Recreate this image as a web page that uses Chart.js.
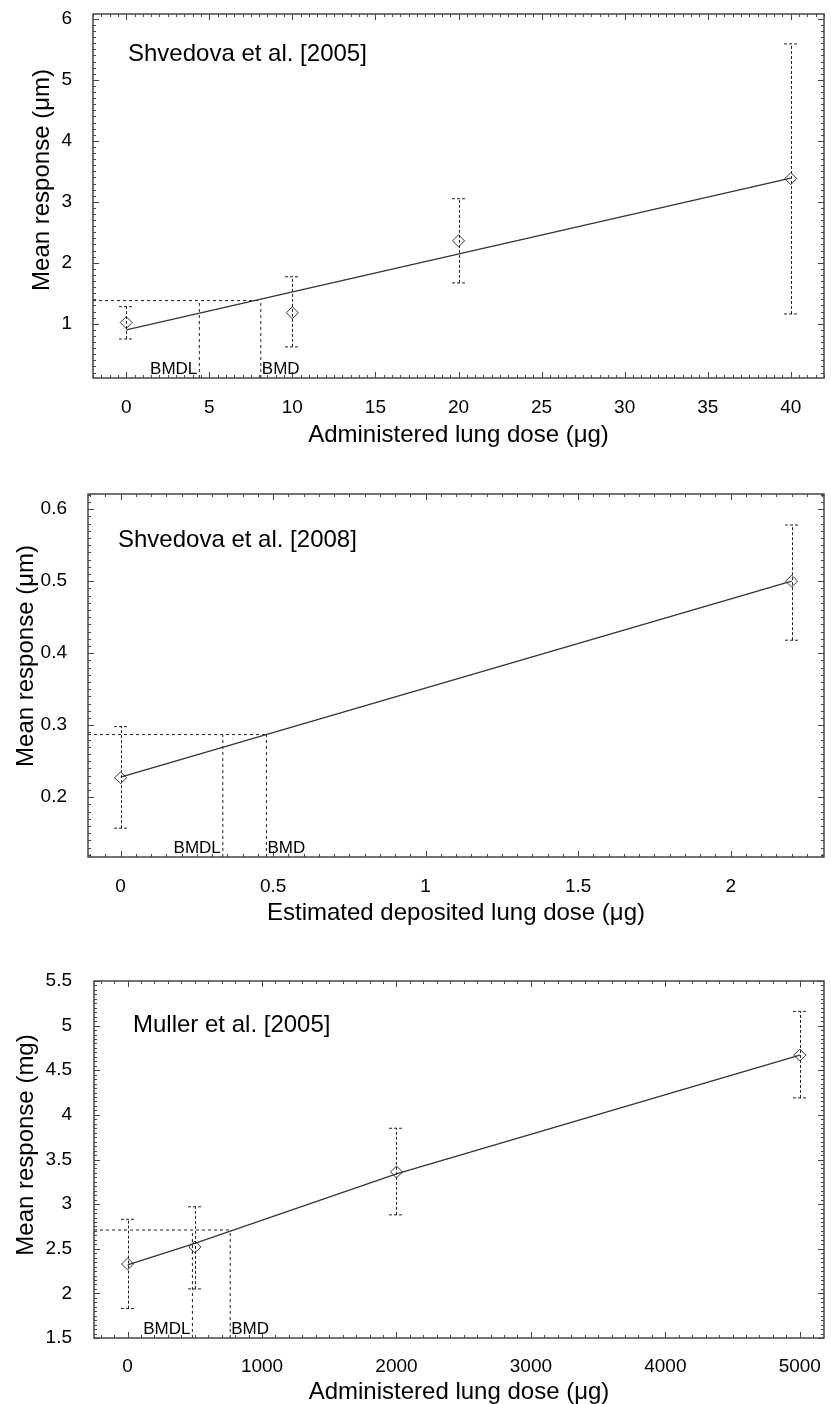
<!DOCTYPE html>
<html>
<head>
<meta charset="utf-8">
<script src="https://cdn.jsdelivr.net/npm/chart.js@4.4.0/dist/chart.umd.min.js"></script>
<style>
  body { margin: 0; background: #fff; width: 831px; height: 1404px; position: relative; overflow: hidden; }
  .panel { position: absolute; left: 0; width: 831px; }
</style>
</head>
<body>
<div class="panel" style="top:0;height:450px"><canvas id="c1"></canvas></div>
<div class="panel" style="top:460px;height:470px"><canvas id="c2"></canvas></div>
<div class="panel" style="top:950px;height:454px"><canvas id="c3"></canvas></div>
<script>
// Shvedova et al. [2005]
const dose1 = [0, 10, 20, 40];
const mean1 = [1.02, 1.18, 2.36, 3.38];
const low1 = [0.75, 0.62, 1.67, 1.16];
const high1 = [1.28, 1.77, 3.05, 5.59];
const fitDose1 = [0, 40];
const fitMean1 = [0.9, 3.39];
const bmd1 = [8.1, 4.4, 1.38];          // BMD, BMDL, response level
const xTicks1 = [0, 5, 10, 15, 20, 25, 30, 35, 40];
const yTicks1 = [1, 2, 3, 4, 5, 6];

// Shvedova et al. [2008]
const dose2 = [0, 2.2];
const mean2 = [0.227, 0.5];
const low2 = [0.157, 0.418];
const high2 = [0.298, 0.578];
const fitDose2 = [0, 2.2];
const fitMean2 = [0.228, 0.5];
const bmd2 = [0.478, 0.335, 0.287];
const xTicks2 = [0, 0.5, 1, 1.5, 2];
const yTicks2 = [0.2, 0.3, 0.4, 0.5, 0.6];

// Muller et al. [2005]
const dose3 = [0, 500, 2000, 5000];
const mean3 = [2.33, 2.52, 3.36, 4.67];
const low3 = [1.83, 2.05, 2.88, 4.19];
const high3 = [2.83, 2.97, 3.85, 5.16];
const fitDose3 = [0, 500, 2000, 5000];
const fitMean3 = [2.32, 2.56, 3.34, 4.67];
const bmd3 = [763, 482, 2.71];
const xTicks3 = [0, 1000, 2000, 3000, 4000, 5000];
const yTicks3 = [1.5, 2, 2.5, 3, 3.5, 4, 4.5, 5, 5.5];

const FONT = '"Liberation Sans", Arial, Helvetica, sans-serif';

function line(ctx, x1, y1, x2, y2) {
  ctx.beginPath();
  ctx.moveTo(x1, y1);
  ctx.lineTo(x2, y2);
  ctx.stroke();
}

function makeChart(p) {
  const pts = (xs, ys) => xs.map((x, i) => ({ x: x, y: ys[i] }));
  const dashed = { showLine: true, borderColor: '#222', borderWidth: 1, borderDash: [3, 3], pointRadius: 0 };
  const [bmd, bmdl, bmr] = p.bmd;

  // error bars, frame, inside ticks and the text annotations
  const extras = {
    id: 'extras',
    beforeDatasetsDraw(chart) {
      const { ctx, scales: { x, y } } = chart;
      ctx.save();
      ctx.strokeStyle = '#222';
      ctx.lineWidth = 1;
      ctx.setLineDash([3, 2]);
      p.dose.forEach((d, i) => {
        const px = Math.round(x.getPixelForValue(d)) + 0.5;
        const lo = y.getPixelForValue(p.low[i]);
        const hi = y.getPixelForValue(p.high[i]);
        line(ctx, px, lo, px, hi);
        line(ctx, px - 7.5, lo, px + 7.5, lo);
        line(ctx, px - 7.5, hi, px + 7.5, hi);
      });
      ctx.restore();
    },
    afterDatasetsDraw(chart) {
      const { ctx, chartArea: a, scales: { x, y } } = chart;
      ctx.save();
      ctx.strokeStyle = '#444';
      ctx.lineWidth = 1.5;
      ctx.strokeRect(a.left, a.top, a.right - a.left, a.bottom - a.top);

      ctx.lineWidth = 1;
      const tickX = (v, len) => {
        const px = Math.round(x.getPixelForValue(v)) + 0.5;
        line(ctx, px, a.bottom, px, a.bottom - len);
        line(ctx, px, a.top, px, a.top + len);
      };
      const tickY = (v, len) => {
        const py = Math.round(y.getPixelForValue(v)) + 0.5;
        line(ctx, a.left, py, a.left + len, py);
        line(ctx, a.right, py, a.right - len, py);
      };
      const minors = (min, max, step, major, fn) => {
        for (let k = Math.ceil(min / step); k <= Math.floor(max / step); k++) {
          const v = k * step;
          if (!major.some(m => Math.abs(m - v) < step / 10)) fn(v, 3);
        }
      };
      p.xTicks.forEach(v => tickX(v, 6));
      p.yTicks.forEach(v => tickY(v, 6));
      minors(p.xMin, p.xMax, p.xMinor, p.xTicks, tickX);
      minors(p.yMin, p.yMax, p.yMinor, p.yTicks, tickY);

      ctx.fillStyle = '#000';
      ctx.font = '24px ' + FONT;
      ctx.textAlign = 'left';
      ctx.textBaseline = 'alphabetic';
      ctx.fillText(p.label, a.left + p.labelX, a.top + p.labelY);

      ctx.font = '17px ' + FONT;
      ctx.textAlign = 'right';
      ctx.fillText('BMDL', x.getPixelForValue(bmdl) - 2, a.bottom - 4);
      ctx.textAlign = 'left';
      ctx.fillText('BMD', x.getPixelForValue(bmd) + 1, a.bottom - 4);

      ctx.translate(p.yTitleX, p.yTitleY);
      ctx.rotate(-Math.PI / 2);
      ctx.font = '24px ' + FONT;
      ctx.textAlign = 'center';
      ctx.textBaseline = 'middle';
      ctx.fillText(p.yTitle, 0, 0);
      ctx.restore();
    }
  };

  new Chart(document.getElementById(p.id), {
    type: 'scatter',
    data: {
      datasets: [
        { data: pts(p.dose, p.mean), pointStyle: 'rectRot', pointRadius: 6,
          borderColor: '#333', borderWidth: 1, backgroundColor: 'rgba(0,0,0,0)' },
        { data: pts(p.fitDose, p.fitMean), showLine: true, borderColor: '#333', borderWidth: 1.3, pointRadius: 0 },
        Object.assign({ data: [{ x: p.xMin, y: bmr }, { x: bmd, y: bmr }] }, dashed),
        Object.assign({ data: [{ x: bmdl, y: p.yMin }, { x: bmdl, y: bmr }] }, dashed),
        Object.assign({ data: [{ x: bmd, y: p.yMin }, { x: bmd, y: bmr }] }, dashed)
      ]
    },
    options: {
      responsive: true,
      maintainAspectRatio: false,
      animation: false,
      events: [],
      layout: { padding: { top: p.padTop, right: p.padRight, left: 0, bottom: 0 } },
      plugins: { legend: { display: false }, tooltip: { enabled: false } },
      scales: {
        x: {
          type: 'linear', min: p.xMin, max: p.xMax,
          grid: { display: false }, border: { display: false },
          afterBuildTicks: s => { s.ticks = p.xTicks.map(v => ({ value: v })); },
          afterFit: s => { s.height = p.xHeight; s.paddingLeft = 0; s.paddingRight = 0; },
          ticks: { padding: p.xTickPad, color: '#000', maxRotation: 0, autoSkip: false,
                   font: { family: FONT, size: 19 }, callback: v => String(v) },
          title: { display: true, text: p.xTitle, color: '#000',
                   font: { family: FONT, size: 24, lineHeight: 1 }, padding: { top: 0, bottom: p.xTitlePad } }
        },
        y: {
          type: 'linear', min: p.yMin, max: p.yMax,
          grid: { display: false }, border: { display: false },
          afterBuildTicks: s => { s.ticks = p.yTicks.map(v => ({ value: v })); },
          afterFit: s => { s.width = p.yWidth; s.paddingTop = 0; s.paddingBottom = 0; },
          ticks: { padding: p.yTickPad, color: '#000', autoSkip: false,
                   font: { family: FONT, size: 19 }, callback: v => String(v) }
        }
      }
    },
    plugins: [extras]
  });
}

makeChart({
  id: 'c1', dose: dose1, mean: mean1, low: low1, high: high1, fitDose: fitDose1, fitMean: fitMean1, bmd: bmd1,
  xTicks: xTicks1, yTicks: yTicks1, xMin: -2, xMax: 42, yMin: 0.11, yMax: 6.08, xMinor: 0.5, yMinor: 0.1,
  label: 'Shvedova et al. [2005]', xTitle: 'Administered lung dose (μg)', yTitle: 'Mean response (μm)',
  padTop: 14, padRight: 3, yWidth: 93, xHeight: 72, xTickPad: 10, yTickPad: 13, xTitlePad: 3,
  yTitleX: 42, yTitleY: 180, labelX: 35, labelY: 47
});

makeChart({
  id: 'c2', dose: dose2, mean: mean2, low: low2, high: high2, fitDose: fitDose2, fitMean: fitMean2, bmd: bmd2,
  xTicks: xTicks2, yTicks: yTicks2, xMin: -0.107, xMax: 2.306, yMin: 0.117, yMax: 0.621, xMinor: 0.05, yMinor: 0.01,
  label: 'Shvedova et al. [2008]', xTitle: 'Estimated deposited lung dose (μg)', yTitle: 'Mean response (μm)',
  padTop: 34, padRight: 2, yWidth: 88, xHeight: 73, xTickPad: 10, yTickPad: 13, xTitlePad: 5,
  yTitleX: 26, yTitleY: 196, labelX: 30, labelY: 53
});

makeChart({
  id: 'c3', dose: dose3, mean: mean3, low: low3, high: high3, fitDose: fitDose3, fitMean: fitMean3, bmd: bmd3,
  xTicks: xTicks3, yTicks: yTicks3, xMin: -250, xMax: 5180, yMin: 1.5, yMax: 5.5, xMinor: 100, yMinor: 0.05,
  label: 'Muller et al. [2005]', xTitle: 'Administered lung dose (μg)', yTitle: 'Mean response (mg)',
  padTop: 31, padRight: 1, yWidth: 94, xHeight: 66, xTickPad: 9, yTickPad: 14, xTitlePad: 0,
  yTitleX: 26, yTitleY: 195, labelX: 39, labelY: 51
});
</script>
</body>
</html>
